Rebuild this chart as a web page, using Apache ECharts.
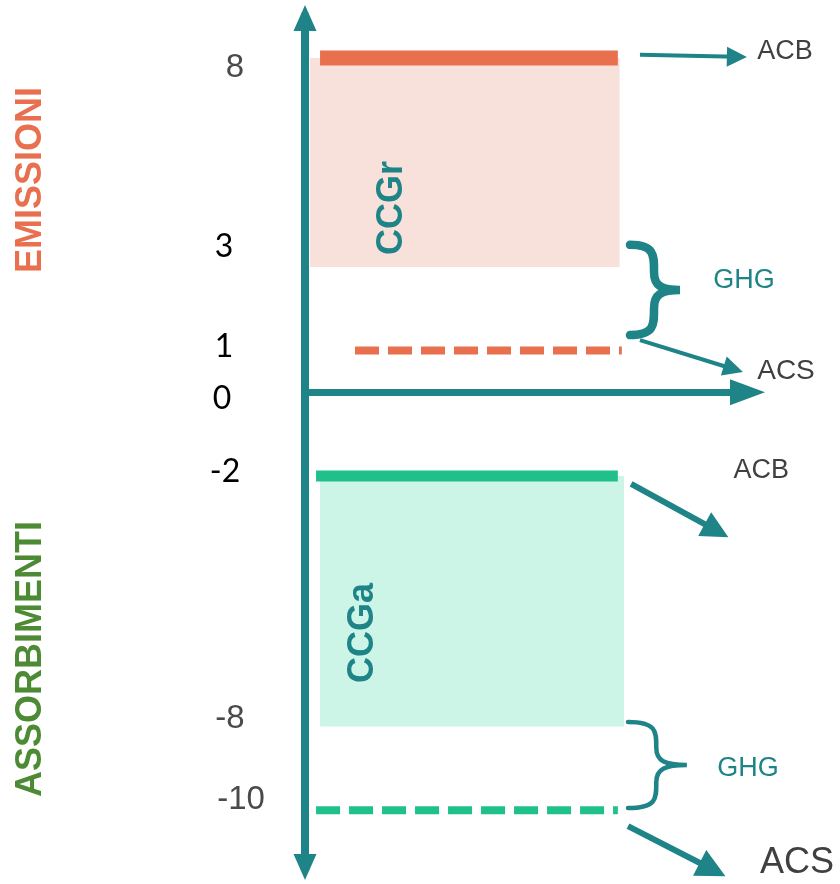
<!DOCTYPE html>
<html><head><meta charset="utf-8">
<script src="https://cdn.jsdelivr.net/npm/echarts@6/dist/echarts.min.js"></script>
<style>html,body{margin:0;padding:0;background:#fff}#c{width:840px;height:884px}</style>
</head><body><div id="c"></div>
<script>
// ---- data ----
const yTickValues = [8, 3, 1, 0, -2, -8, -10];
const yTickLabels = ['8', '3', '1', '0', '-2', '-8', '-10'];
const bandNames = ['CCGr', 'CCGa'];
const bandX = [[0.11, 7.11], [0.34, 7.21]];
const bandY = [[8, 3], [-2, -8]];
const solidLineY = [8, -2];
const solidLineX = [[0.34, 7.07], [0.25, 7.07]];
const dashedLineY = [1, -10];
const dashedLineX = [[1.13, 7.16], [0.25, 7.07]];
const arrowFrom = [[7.57, 8.08], [7.57, 1.25], [7.37, -2.19], [7.30, -10.38]];
const arrowTo = [[9.76, 8.03], [9.68, 0.56], [9.30, -3.31], [9.21, -11.42]];
const arrowLabels = ['ACB', 'ACS', 'ACB', 'ACS'];
const arrowLabelPos = [[10.85, 8.15], [10.87, 0.51], [10.31, -1.88], [11.12, -11.26]];
const braceBoxes = [[7.345, 3.53, 8.475, 1.37], [7.30, -7.89, 8.63, -9.95]];
const braceLabels = ['GHG', 'GHG'];
const braceLabelPos = [[9.92, 2.67], [10.01, -9.01]];
const bandLabelPos = [[1.97, 4.41], [1.31, -5.76]];
const sideTitles = ['EMISSIONI', 'ASSORBIMENTI'];

// ---- styles ----
const TEAL = '#1E8488', RED = '#E8704F', PINK = '#F9E1DB', GREEN = '#20C08A', MINT = '#CCF5E7', OLIVE = '#4C8A34';
const bandColors = [PINK, MINT];
const lineColors = [RED, GREEN];
const solidWidths = [15, 11];
const arrowWidths = [4, 4, 6, 6];
const arrowHead = [[24, 20], [24, 20], [27, 27], [29, 29]];
const arrowFont = [27, 28, 27, 36];
const braceWidths = [8.5, 4.5];
// label tweaks
const tickStyle = {
  '8':  {dx: 5,  dy: 10, fam: 'Liberation Sans', color: '#4a4a4a'},
  '3':  {dx: -6, dy: -20, fam: 'Lato', color: '#000'},
  '1':  {dx: -6, dy: -4, fam: 'Lato', color: '#000'},
  '0':  {dx: -8, dy: 6, fam: 'Lato', color: '#000'},
  '-2': {dx: -5, dy: -4, fam: 'Lato', color: '#000'},
  '-8': {dx: 0,  dy: -8, fam: 'Liberation Sans', color: '#4a4a4a'},
  '-10':{dx: 11, dy: -10, fam: 'Liberation Sans', color: '#4a4a4a'}
};
const rich = {};
yTickLabels.forEach((l, i) => {
  const s = tickStyle[l];
  rich['t' + i] = {
    fontFamily: s.fam, fontSize: s.fam === 'Lato' ? 32 : 33, color: s.color,
    padding: [Math.max(0, 2 * s.dy), Math.max(0, -2 * s.dx), Math.max(0, -2 * s.dy), Math.max(0, 2 * s.dx)]
  };
});

const series = [];
// bands
series.push({
  type: 'custom', z: 1, silent: true,
  data: bandX.map((x, i) => [x[0], bandY[i][0], x[1], bandY[i][1], i]),
  encode: {x: [0, 2], y: [1, 3]},
  renderItem: function (params, api) {
    const p0 = api.coord([api.value(0), api.value(1)]);
    const p1 = api.coord([api.value(2), api.value(3)]);
    return {type: 'rect', shape: {x: p0[0], y: p0[1], width: p1[0] - p0[0], height: p1[1] - p0[1]},
      style: {fill: bandColors[api.value(4)]}};
  }
});
// solid lines
solidLineY.forEach((y, i) => series.push({
  type: 'line', z: 3, silent: true, symbol: 'none',
  data: [[solidLineX[i][0], y], [solidLineX[i][1], y]],
  lineStyle: {color: lineColors[i], width: solidWidths[i]}
}));
// dashed lines
dashedLineY.forEach((y, i) => series.push({
  type: 'line', z: 3, silent: true, symbol: 'none',
  data: [[dashedLineX[i][0], y], [dashedLineX[i][1], y]],
  lineStyle: {color: lineColors[i], width: 8, type: [24, 9]}
}));
// arrows
arrowFrom.forEach((f, i) => series.push({
  type: 'lines', coordinateSystem: 'cartesian2d', z: 4, silent: true, clip: false,
  symbol: ['none', 'triangle'], symbolSize: arrowHead[i],
  data: [{coords: [f, arrowTo[i]]}],
  lineStyle: {color: TEAL, width: arrowWidths[i], opacity: 1, curveness: 0}
}));
// braces
series.push({
  type: 'custom', z: 4, silent: true, clip: false,
  data: braceBoxes.map((b, i) => [b[0], b[1], b[2], b[3], i]),
  encode: {x: [0, 2], y: [1, 3]},
  renderItem: function (params, api) {
    const p0 = api.coord([api.value(0), api.value(1)]);
    const p1 = api.coord([api.value(2), api.value(3)]);
    const x0 = p0[0], y0 = p0[1], x1 = p1[0], y1 = p1[1];
    const w = x1 - x0, h = y1 - y0, ym = (y0 + y1) / 2;
    const xm = x0 + 0.48 * w;
    const d = 'M' + x0 + ' ' + y0 +
      ' C' + (x0 + 0.5 * w) + ' ' + y0 + ' ' + xm + ' ' + (y0 + 0.12 * h) + ' ' + xm + ' ' + (y0 + 0.3 * h) +
      ' C' + xm + ' ' + (ym - 0.05 * h) + ' ' + (x0 + 0.62 * w) + ' ' + ym + ' ' + x1 + ' ' + ym +
      ' C' + (x0 + 0.62 * w) + ' ' + ym + ' ' + xm + ' ' + (ym + 0.05 * h) + ' ' + xm + ' ' + (y1 - 0.3 * h) +
      ' C' + xm + ' ' + (y1 - 0.12 * h) + ' ' + (x0 + 0.5 * w) + ' ' + y1 + ' ' + x0 + ' ' + y1;
    return {type: 'path', shape: {pathData: d},
      style: {fill: 'none', stroke: TEAL, lineWidth: braceWidths[api.value(4)], lineCap: 'round', lineJoin: 'miter'}};
  }
});
// text labels
const textData = [];
arrowLabels.forEach((t, i) => textData.push({value: arrowLabelPos[i],
  label: {formatter: t, fontSize: arrowFont[i], color: '#404040', fontFamily: 'Liberation Sans'}}));
braceLabels.forEach((t, i) => textData.push({value: braceLabelPos[i],
  label: {formatter: t, fontSize: 27, color: TEAL, fontFamily: 'Liberation Sans'}}));
bandNames.forEach((t, i) => textData.push({value: bandLabelPos[i],
  label: {formatter: t, fontSize: 36, color: TEAL, fontWeight: 'bold', rotate: 90,
    fontFamily: 'Liberation Sans'}}));
series.push({
  type: 'scatter', z: 5, silent: true, clip: false, symbolSize: 1,
  itemStyle: {color: 'rgba(0,0,0,0)', opacity: 1},
  label: {show: true, position: 'inside', align: 'center', verticalAlign: 'middle',
    textBorderWidth: 0, textBorderColor: 'transparent', opacity: 1},
  data: textData
});

const chart = echarts.init(document.getElementById('c'), null, {renderer: 'canvas'});
chart.setOption({
  animation: false,
  backgroundColor: '#fff',
  grid: {left: 305, right: 92.5, top: 18, bottom: 17},
  xAxis: {
    type: 'value', min: 0, max: 10,
    axisLine: {show: true, onZero: true, symbol: ['none', 'triangle'], symbolSize: [26, 35],
      lineStyle: {color: TEAL, width: 7}},
    axisTick: {show: false}, axisLabel: {show: false}, splitLine: {show: false}
  },
  yAxis: {
    type: 'value', min: -11.36, max: 8.96,
    axisLine: {show: true, onZero: false, symbol: ['triangle', 'triangle'], symbolSize: [23, 26],
      lineStyle: {color: TEAL, width: 8}},
    axisTick: {show: false}, splitLine: {show: false},
    axisLabel: {
      show: true, customValues: yTickValues, margin: 75, align: 'center', verticalAlign: 'middle',
      formatter: function (v) {
        const i = yTickValues.indexOf(v);
        return i < 0 ? '' : '{t' + i + '|' + yTickLabels[i] + '}';
      },
      rich: rich
    }
  },
  graphic: [
    {type: 'text', x: 31, y: 180, rotation: Math.PI / 2, silent: true,
      style: {text: sideTitles[0], fill: RED, font: 'bold 36px "Liberation Sans"', align: 'center', verticalAlign: 'middle'}},
    {type: 'text', x: 31, y: 659, rotation: Math.PI / 2, silent: true,
      style: {text: sideTitles[1], fill: OLIVE, font: 'bold 36px "Liberation Sans"', align: 'center', verticalAlign: 'middle'}}
  ],
  series: series
});
</script>
</body></html>
